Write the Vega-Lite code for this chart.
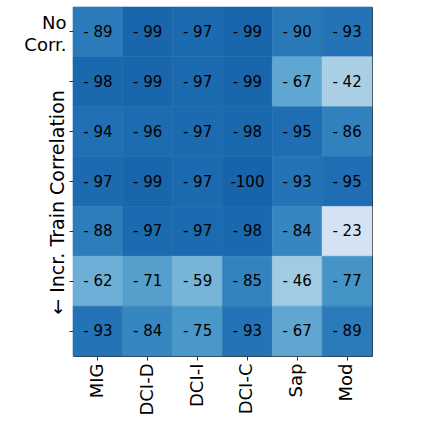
{
  "$schema": "https://vega.github.io/schema/vega-lite/v6.json",
  "width": 299,
  "height": 349,
  "autosize": {"type": "none"},
  "padding": {"left": 73, "top": 7, "right": 51, "bottom": 67},
  "background": "white",
  "config": {
    "view": {"stroke": "#333333", "strokeWidth": 1},
    "font": "DejaVu Sans",
    "axis": {"labelFont": "DejaVu Sans", "titleFont": "DejaVu Sans", "labelColor": "black", "titleColor": "black", "tickColor": "#333333", "domain": false, "grid": false}
  },
  "data": {
    "values": [
      {"r": 0, "c": "MIG", "value": -89}, {"r": 0, "c": "DCI-D", "value": -99}, {"r": 0, "c": "DCI-I", "value": -97}, {"r": 0, "c": "DCI-C", "value": -99}, {"r": 0, "c": "Sap", "value": -90}, {"r": 0, "c": "Mod", "value": -93},
      {"r": 1, "c": "MIG", "value": -98}, {"r": 1, "c": "DCI-D", "value": -99}, {"r": 1, "c": "DCI-I", "value": -97}, {"r": 1, "c": "DCI-C", "value": -99}, {"r": 1, "c": "Sap", "value": -67}, {"r": 1, "c": "Mod", "value": -42},
      {"r": 2, "c": "MIG", "value": -94}, {"r": 2, "c": "DCI-D", "value": -96}, {"r": 2, "c": "DCI-I", "value": -97}, {"r": 2, "c": "DCI-C", "value": -98}, {"r": 2, "c": "Sap", "value": -95}, {"r": 2, "c": "Mod", "value": -86},
      {"r": 3, "c": "MIG", "value": -97}, {"r": 3, "c": "DCI-D", "value": -99}, {"r": 3, "c": "DCI-I", "value": -97}, {"r": 3, "c": "DCI-C", "value": -100}, {"r": 3, "c": "Sap", "value": -93}, {"r": 3, "c": "Mod", "value": -95},
      {"r": 4, "c": "MIG", "value": -88}, {"r": 4, "c": "DCI-D", "value": -97}, {"r": 4, "c": "DCI-I", "value": -97}, {"r": 4, "c": "DCI-C", "value": -98}, {"r": 4, "c": "Sap", "value": -84}, {"r": 4, "c": "Mod", "value": -23},
      {"r": 5, "c": "MIG", "value": -62}, {"r": 5, "c": "DCI-D", "value": -71}, {"r": 5, "c": "DCI-I", "value": -59}, {"r": 5, "c": "DCI-C", "value": -85}, {"r": 5, "c": "Sap", "value": -46}, {"r": 5, "c": "Mod", "value": -77},
      {"r": 6, "c": "MIG", "value": -93}, {"r": 6, "c": "DCI-D", "value": -84}, {"r": 6, "c": "DCI-I", "value": -75}, {"r": 6, "c": "DCI-C", "value": -93}, {"r": 6, "c": "Sap", "value": -67}, {"r": 6, "c": "Mod", "value": -89}
    ]
  },
  "transform": [
    {"calculate": "datum.value <= -100 ? '-' + abs(datum.value) : '- ' + abs(datum.value)", "as": "label"}
  ],
  "encoding": {
    "x": {
      "field": "c", "type": "nominal",
      "sort": ["MIG", "DCI-D", "DCI-I", "DCI-C", "Sap", "Mod"],
      "scale": {"paddingInner": 0, "paddingOuter": 0},
      "axis": {"title": null, "labelAngle": 270, "labelAlign": "right", "labelBaseline": "middle", "labelFontSize": 18, "labelPadding": 3, "tickSize": 4}
    },
    "y": {
      "field": "r", "type": "ordinal",
      "scale": {"paddingInner": 0, "paddingOuter": 0},
      "axis": {
        "title": "← Incr. Train Correlation",
        "titleFontSize": 19, "titleFontWeight": "normal",
        "titleX": -10, "titleY": 195, "titleBaseline": "alphabetic", "titleAlign": "center", "titleAngle": 270,
        "labelExpr": "datum.value == 0 ? ['No', 'Corr.'] : ''",
        "labelFontSize": 18, "labelLineHeight": 22, "labelPadding": 3, "labelOffset": -8, "tickSize": 4, "labelAlign": "right", "labelBaseline": "middle"
      }
    }
  },
  "layer": [
    {
      "mark": {"type": "rect", "strokeWidth": 0.6},
      "encoding": {
        "color": {
          "field": "value", "type": "quantitative",
          "scale": {
            "domain": [0, -15.625, -31.25, -46.875, -62.5, -78.125, -93.75, -109.375, -125],
            "range": ["#f7fbff", "#deebf7", "#c6dbef", "#9ecae1", "#6baed6", "#4292c6", "#2171b5", "#08519c", "#08306b"],
            "interpolate": "rgb"
          },
          "legend": null
        },
        "stroke": {
          "field": "value", "type": "quantitative",
          "scale": {
            "domain": [0, -15.625, -31.25, -46.875, -62.5, -78.125, -93.75, -109.375, -125],
            "range": ["#f7fbff", "#deebf7", "#c6dbef", "#9ecae1", "#6baed6", "#4292c6", "#2171b5", "#08519c", "#08306b"],
            "interpolate": "rgb"
          },
          "legend": null
        }
      }
    },
    {
      "mark": {"type": "text", "fontSize": 15, "font": "DejaVu Sans", "color": "black"},
      "encoding": {"text": {"field": "label"}}
    }
  ]
}
